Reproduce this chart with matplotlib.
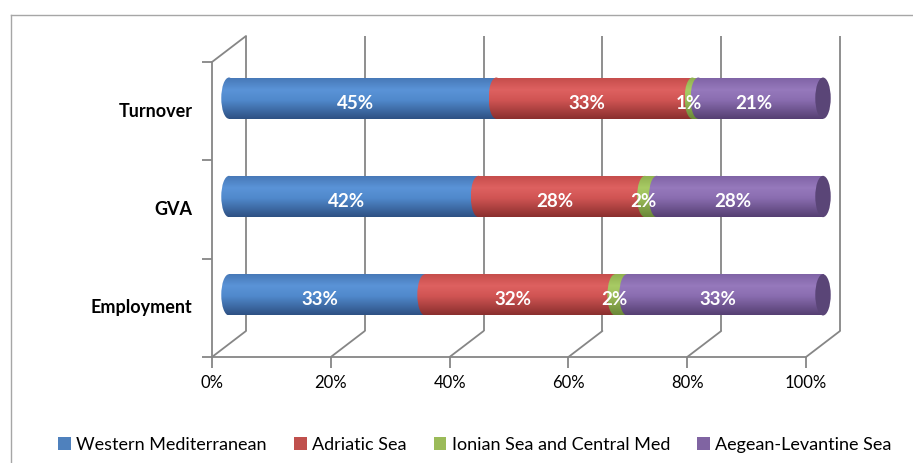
import numpy as np
import matplotlib
matplotlib.use('Agg')
import matplotlib.pyplot as plt
from matplotlib import transforms
from matplotlib.patches import Rectangle, Ellipse, ConnectionPatch, Patch
from matplotlib.colors import LinearSegmentedColormap
from matplotlib.lines import Line2D

# ---------------- data ----------------
categories = ['Employment', 'GVA', 'Turnover']
series = ['Western Mediterranean', 'Adriatic Sea',
          'Ionian Sea and Central Med', 'Aegean-Levantine Sea']
western = [33, 42, 45]
adriatic = [32, 28, 33]
ionian = [2, 2, 1]
aegean = [33, 28, 21]
xticks = [0, 20, 40, 60, 80, 100]
xticklabels = ['0%', '20%', '40%', '60%', '80%', '100%']

# ---------------- style ----------------
plt.rcParams['font.family'] = ['Lato', 'DejaVu Sans']
grad_colors = [
    ['#4677B5', '#5A93D7', '#5089CC', '#2E5183'],
    ['#C44C4A', '#DE6160', '#D05453', '#8A2F2E'],
    ['#8EAE4E', '#A8CB64', '#9BBC59', '#6A8738'],
    ['#7E62A4', '#9679BC', '#8A6DB0', '#553F72'],
]
legend_colors = ['#4F81BD', '#C0504D', '#9BBB59', '#8064A2']
cap_color = '#5A4577'
grid_c = '#868686'
grid_lw = 1.3

W, H = 913, 463
pad = 4  # x padding (in % units) so the rounded ends are not clipped
ppu = 594 / 100.0
fig = plt.figure(figsize=(W / 100, H / 100), dpi=100)
ax = fig.add_axes([(229 - pad * ppu) / W, 119 / H, (594 + 2 * pad * ppu) / W, 295 / H])
ax.axis('off')

front = ax.transData + transforms.ScaledTranslation(-0.17, -0.13, fig.dpi_scale_trans)
back = ax.transData + transforms.ScaledTranslation(0.17, 0.13, fig.dpi_scale_trans)

ymin, ymax = -0.5, len(categories) - 0.5
line_kw = dict(color=grid_c, lw=grid_lw, zorder=0.5, clip_on=False)

# back wall gridlines
for x in xticks:
    ax.plot([x, x], [ymin, ymax], transform=back, solid_capstyle='butt', **line_kw)
# floor diagonals
for x in xticks:
    ax.add_artist(ConnectionPatch(xyA=(x, ymin), coordsA=front, xyB=(x, ymin), coordsB=back,
                                  color=grid_c, lw=grid_lw, zorder=0.5))
# top-left diagonal
ax.add_artist(ConnectionPatch(xyA=(0, ymax), coordsA=front, xyB=(0, ymax), coordsB=back,
                              color=grid_c, lw=grid_lw, zorder=0.5))
# front floor line and left wall line
ax.plot([0, 100], [ymin, ymin], transform=front, **line_kw)
ax.plot([0, 0], [ymin, ymax], transform=front, **line_kw)
# ticks
ax.plot(xticks, [ymin] * len(xticks), transform=front, ls='none', marker=3,
        markersize=8, mew=grid_lw, color=grid_c, zorder=0.5, clip_on=False)
ax.plot([0] * (len(categories) + 1), np.arange(len(categories) + 1) - 0.5, transform=front,
        ls='none', marker=0, markersize=7, mew=grid_lw, color=grid_c, zorder=0.5, clip_on=False)

# cylinders
bar_h = 0.42
cap_w = 2.6
data = [western, adriatic, ionian, aegean]
grad = np.linspace(0, 1, 128).reshape(-1, 1)
cmaps = [LinearSegmentedColormap.from_list('c%d' % i, list(zip([0, 0.3, 0.55, 1], cols)))
         for i, cols in enumerate(grad_colors)]
for j in range(len(categories)):
    left = 0
    for s, vals in enumerate(data):
        v = vals[j]
        yb, yt = j - bar_h / 2, j + bar_h / 2
        z = 2 + s * 0.1
        rect = Rectangle((left, yb), v, bar_h, fc='none', ec='none')
        ell = Ellipse((left, j), cap_w, bar_h, fc='none', ec='none')
        ax.add_patch(rect)
        ax.add_patch(ell)
        for clip, (x0, x1) in ((rect, (left, left + v)), (ell, (left - cap_w / 2, left + cap_w / 2))):
            im = ax.imshow(grad, cmap=cmaps[s], extent=(x0, x1, yb, yt), origin='upper',
                           aspect='auto', interpolation='bilinear', zorder=z)
            im.set_clip_path(clip)
        ax.annotate('%d%%' % v, xy=(left + v / 2, j), xytext=(-5, -3.5),
                    textcoords='offset points', ha='center', va='center',
                    color='white', fontsize=13.5, fontweight='bold', zorder=5)
        left += v
    ax.add_patch(Ellipse((left, j), cap_w, bar_h, fc=cap_color, ec='none', zorder=3))

ax.set_xlim(-pad, 100 + pad)
ax.set_ylim(ymin, ymax)

# category labels (front plane)
for j, c in enumerate(categories):
    ax.annotate(c, xy=(0, j), xycoords=front, xytext=(-14, 0), textcoords='offset points',
                ha='right', va='center', fontsize=13, fontweight='bold', color='black')
# x tick labels
for x, lab in zip(xticks, xticklabels):
    ax.annotate(lab, xy=(x, ymin), xycoords=front, xytext=(0, -19), textcoords='offset points',
                ha='center', va='center', fontsize=12, color='black')

# legend
handles = [Patch(facecolor=c, edgecolor='none') for c in legend_colors]
fig.legend(handles, series, loc='center', bbox_to_anchor=(475 / W, 1 - 445 / H),
           ncol=4, frameon=False, fontsize=13, handlelength=0.7, handleheight=0.7,
           handletextpad=0.3, columnspacing=1.5, borderaxespad=0)

# chart border
fig.add_artist(Line2D([11 / W, 11 / W], [0, 1 - 15 / H], transform=fig.transFigure,
                      color='#A6A6A6', lw=1))
fig.add_artist(Line2D([11 / W, 1], [1 - 15 / H, 1 - 15 / H], transform=fig.transFigure,
                      color='#A6A6A6', lw=1))

fig.savefig('out.png', dpi=100)
